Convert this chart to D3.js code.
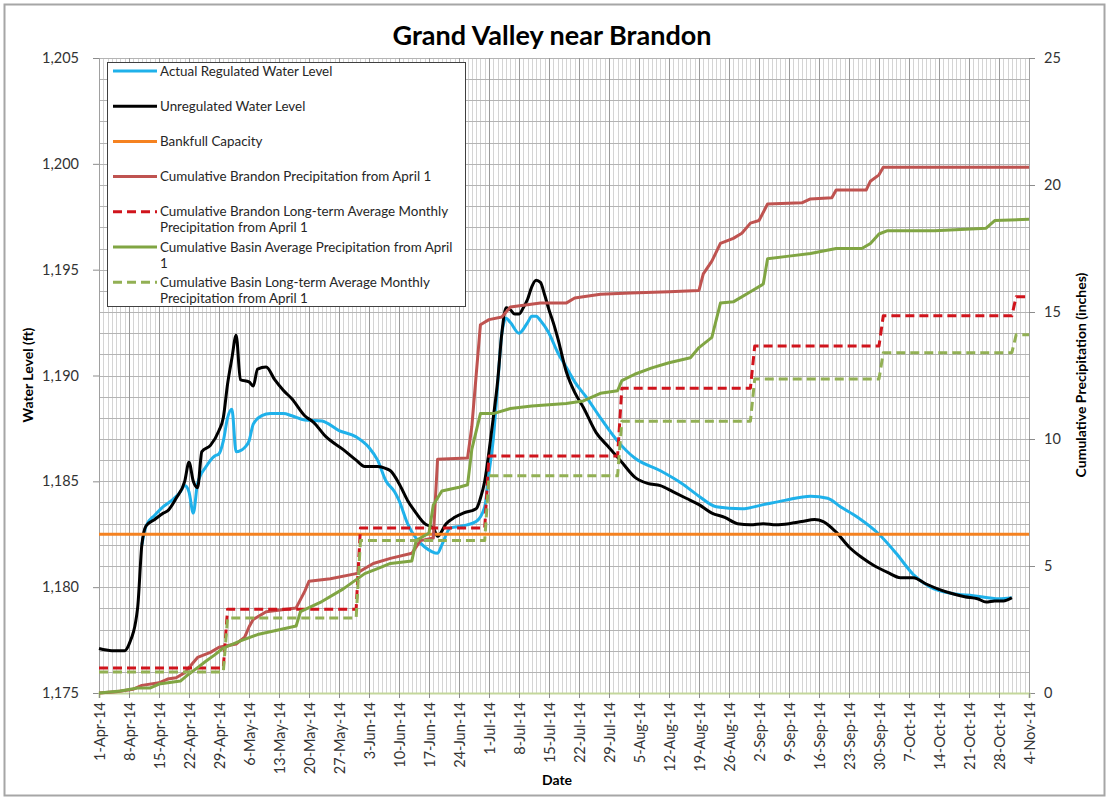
<!DOCTYPE html>
<html>
<head>
<meta charset="utf-8">
<script src="https://cdn.jsdelivr.net/npm/d3@7"></script>
<style>
  body { margin: 0; background: #fff; }
  text { font-family: Lato, "Open Sans", sans-serif; fill: #333; }
</style>
</head>
<body>
<div id="vis"></div>
<script>

// water levels (ft)
var regulatedLevel = [
  ["2014-04-11",1182.0],["2014-04-12",1182.9],["2014-04-14",1183.4],["2014-04-16",1183.8],
  ["2014-04-18",1184.1],["2014-04-20",1184.5],["2014-04-21",1184.8],["2014-04-22",1184.5],
  ["2014-04-23",1183.5],["2014-04-24",1184.9],["2014-04-26",1185.7],["2014-04-28",1186.2],
  ["2014-04-29",1186.3],["2014-04-30",1186.9],["2014-05-01",1188.0],["2014-05-02",1188.4],
  ["2014-05-03",1186.4],["2014-05-05",1186.6],["2014-05-06",1186.9],["2014-05-07",1187.7],
  ["2014-05-09",1188.1],["2014-05-11",1188.2],["2014-05-14",1188.2],["2014-05-16",1188.1],
  ["2014-05-19",1187.9],["2014-05-23",1187.85],["2014-05-27",1187.4],["2014-05-31",1187.1],
  ["2014-06-03",1186.6],["2014-06-05",1186.0],["2014-06-07",1185.0],["2014-06-09",1184.5],
  ["2014-06-10",1184.1],["2014-06-12",1183.0],["2014-06-14",1182.3],["2014-06-16",1181.9],
  ["2014-06-19",1181.6],["2014-06-20",1182.0],["2014-06-22",1182.8],["2014-06-25",1182.9],
  ["2014-06-28",1183.1],["2014-06-30",1183.8],["2014-07-01",1185.4],["2014-07-02",1187.0],
  ["2014-07-03",1189.5],["2014-07-04",1192.0],["2014-07-05",1192.7],["2014-07-06",1192.5],
  ["2014-07-08",1192.0],["2014-07-10",1192.5],["2014-07-11",1192.8],["2014-07-12",1192.8],
  ["2014-07-13",1192.6],["2014-07-15",1192.0],["2014-07-17",1191.1],["2014-07-19",1190.4],
  ["2014-07-21",1189.7],["2014-07-24",1188.9],["2014-07-27",1188.0],["2014-07-31",1186.9],
  ["2014-08-04",1186.1],["2014-08-10",1185.5],["2014-08-15",1184.9],["2014-08-19",1184.3],
  ["2014-08-23",1183.8],["2014-08-29",1183.7],["2014-09-03",1183.9],["2014-09-08",1184.1],
  ["2014-09-14",1184.3],["2014-09-18",1184.2],["2014-09-21",1183.8],["2014-09-25",1183.3],
  ["2014-09-30",1182.5],["2014-10-04",1181.6],["2014-10-08",1180.6],["2014-10-12",1180.0],
  ["2014-10-17",1179.7],["2014-10-22",1179.6],["2014-10-28",1179.45],["2014-10-31",1179.5]
];

var unregulatedLevel = [
  ["2014-04-01",1177.1],["2014-04-04",1177.0],["2014-04-07",1177.0],["2014-04-08",1177.3],
  ["2014-04-10",1179.0],["2014-04-11",1182.0],["2014-04-12",1182.9],["2014-04-14",1183.2],
  ["2014-04-16",1183.5],["2014-04-17",1183.6],["2014-04-19",1184.2],["2014-04-21",1185.0],
  ["2014-04-22",1185.9],["2014-04-23",1185.0],["2014-04-24",1184.7],["2014-04-25",1186.4],
  ["2014-04-27",1186.7],["2014-04-29",1187.4],["2014-04-30",1188.0],["2014-05-01",1189.6],
  ["2014-05-02",1190.8],["2014-05-03",1191.9],["2014-05-04",1189.8],["2014-05-06",1189.7],
  ["2014-05-07",1189.5],["2014-05-08",1190.3],["2014-05-10",1190.4],["2014-05-12",1189.8],
  ["2014-05-14",1189.3],["2014-05-16",1188.9],["2014-05-19",1188.1],["2014-05-21",1187.8],
  ["2014-05-24",1187.1],["2014-05-28",1186.5],["2014-05-31",1186.0],["2014-06-02",1185.7],
  ["2014-06-05",1185.7],["2014-06-07",1185.6],["2014-06-08",1185.5],["2014-06-10",1184.9],
  ["2014-06-12",1184.1],["2014-06-14",1183.5],["2014-06-16",1183.0],["2014-06-18",1182.8],
  ["2014-06-19",1182.4],["2014-06-21",1183.0],["2014-06-23",1183.3],["2014-06-25",1183.5],
  ["2014-06-28",1183.7],["2014-06-29",1184.2],["2014-06-30",1185.0],["2014-07-01",1186.4],
  ["2014-07-02",1188.0],["2014-07-03",1189.7],["2014-07-04",1192.0],["2014-07-05",1193.2],
  ["2014-07-06",1193.1],["2014-07-07",1192.9],["2014-07-08",1192.9],["2014-07-09",1193.2],
  ["2014-07-10",1193.6],["2014-07-11",1194.2],["2014-07-12",1194.5],["2014-07-13",1194.4],
  ["2014-07-14",1193.8],["2014-07-15",1193.1],["2014-07-16",1192.5],["2014-07-17",1191.8],
  ["2014-07-19",1190.2],["2014-07-21",1189.2],["2014-07-23",1188.5],["2014-07-26",1187.3],
  ["2014-07-29",1186.6],["2014-08-01",1185.9],["2014-08-04",1185.2],["2014-08-07",1184.9],
  ["2014-08-10",1184.8],["2014-08-13",1184.5],["2014-08-16",1184.2],["2014-08-19",1183.9],
  ["2014-08-22",1183.5],["2014-08-25",1183.3],["2014-08-28",1183.0],["2014-08-31",1182.95],
  ["2014-09-03",1183.0],["2014-09-06",1182.95],["2014-09-09",1183.0],["2014-09-12",1183.1],
  ["2014-09-15",1183.2],["2014-09-17",1183.1],["2014-09-20",1182.6],["2014-09-23",1181.9],
  ["2014-09-26",1181.4],["2014-09-29",1181.0],["2014-10-02",1180.7],["2014-10-05",1180.45],
  ["2014-10-08",1180.45],["2014-10-11",1180.15],["2014-10-14",1179.9],["2014-10-17",1179.7],
  ["2014-10-20",1179.55],["2014-10-23",1179.45],["2014-10-25",1179.3],["2014-10-27",1179.35],
  ["2014-10-29",1179.35],["2014-10-31",1179.5]
];

var bankfullLevel = [["2014-04-01",1182.5],["2014-11-04",1182.5]];

// cumulative precipitation (inches)
var brandonPrecip = [
  ["2014-04-01",0],["2014-04-05",0.05],["2014-04-09",0.15],["2014-04-11",0.3],["2014-04-15",0.4],
  ["2014-04-17",0.55],["2014-04-19",0.6],["2014-04-21",0.8],["2014-04-23",1.2],["2014-04-24",1.4],
  ["2014-04-27",1.6],["2014-04-29",1.8],["2014-05-03",1.93],["2014-05-05",2.2],["2014-05-06",2.6],
  ["2014-05-07",2.9],["2014-05-10",3.2],["2014-05-17",3.35],["2014-05-19",4.0],["2014-05-20",4.4],
  ["2014-05-25",4.5],["2014-05-31",4.7],["2014-06-02",4.9],["2014-06-04",5.1],["2014-06-08",5.3],
  ["2014-06-13",5.5],["2014-06-15",6.0],["2014-06-18",6.1],["2014-06-19",9.2],["2014-06-26",9.25],
  ["2014-06-27",10.5],["2014-06-28",12.5],["2014-06-29",14.5],["2014-07-01",14.7],["2014-07-04",14.8],
  ["2014-07-06",15.2],["2014-07-13",15.35],["2014-07-19",15.35],["2014-07-21",15.55],["2014-07-27",15.7],
  ["2014-08-03",15.75],["2014-08-12",15.8],["2014-08-19",15.85],["2014-08-20",16.5],["2014-08-22",17.0],
  ["2014-08-24",17.7],["2014-08-27",17.9],["2014-08-29",18.1],["2014-08-31",18.5],["2014-09-02",18.6],
  ["2014-09-04",19.25],["2014-09-12",19.3],["2014-09-14",19.45],["2014-09-19",19.5],["2014-09-20",19.8],
  ["2014-09-27",19.8],["2014-09-28",20.15],["2014-09-30",20.4],["2014-10-01",20.7],["2014-11-04",20.7]
];

var brandonNormal = [
  ["2014-04-01",0.98],["2014-04-30",0.98],["2014-05-01",3.3],["2014-05-31",3.3],
  ["2014-06-01",6.5],["2014-06-30",6.5],["2014-07-01",9.33],["2014-07-31",9.33],
  ["2014-08-01",12.0],["2014-08-31",12.0],["2014-09-01",13.66],["2014-09-30",13.66],
  ["2014-10-01",14.85],["2014-10-31",14.85],["2014-11-01",15.6],["2014-11-04",15.6]
];

var basinPrecip = [
  ["2014-04-01",0],["2014-04-06",0.08],["2014-04-10",0.2],["2014-04-13",0.2],["2014-04-15",0.35],
  ["2014-04-20",0.47],["2014-04-22",0.75],["2014-04-24",1.0],["2014-04-26",1.26],["2014-04-28",1.5],
  ["2014-04-30",1.77],["2014-05-04",2.05],["2014-05-08",2.3],["2014-05-12",2.45],["2014-05-17",2.64],
  ["2014-05-18",3.2],["2014-05-23",3.6],["2014-05-28",4.1],["2014-06-02",4.7],["2014-06-05",4.9],
  ["2014-06-08",5.1],["2014-06-13",5.2],["2014-06-14",6.0],["2014-06-17",6.3],["2014-06-18",7.4],
  ["2014-06-20",7.95],["2014-06-24",8.1],["2014-06-26",8.2],["2014-06-27",9.6],["2014-06-29",11.0],
  ["2014-07-02",11.0],["2014-07-06",11.2],["2014-07-11",11.3],["2014-07-19",11.4],["2014-07-23",11.5],
  ["2014-07-27",11.8],["2014-07-31",11.9],["2014-08-01",12.3],["2014-08-04",12.55],["2014-08-08",12.8],
  ["2014-08-12",13.0],["2014-08-17",13.2],["2014-08-19",13.6],["2014-08-22",14.0],["2014-08-24",15.35],
  ["2014-08-27",15.4],["2014-08-31",15.8],["2014-09-03",16.1],["2014-09-04",17.1],["2014-09-09",17.2],
  ["2014-09-14",17.3],["2014-09-20",17.5],["2014-09-26",17.5],["2014-09-28",17.7],["2014-09-30",18.07],
  ["2014-10-02",18.2],["2014-10-13",18.2],["2014-10-25",18.3],["2014-10-27",18.6],["2014-11-04",18.65]
];

var basinNormal = [
  ["2014-04-01",0.83],["2014-04-30",0.83],["2014-05-01",2.95],["2014-05-31",2.95],
  ["2014-06-01",6.0],["2014-06-30",6.0],["2014-07-01",8.55],["2014-07-31",8.55],
  ["2014-08-01",10.7],["2014-08-31",10.7],["2014-09-01",12.36],["2014-09-30",12.36],
  ["2014-10-01",13.4],["2014-10-31",13.4],["2014-11-01",14.1],["2014-11-04",14.1]
];

var levelTicks = [1175, 1180, 1185, 1190, 1195, 1200, 1205];
var precipTicks = [0, 5, 10, 15, 20, 25];
var dateRange = ["2014-04-01", "2014-11-04"];

var legendLabels = [
  ["Actual Regulated Water Level"],
  ["Unregulated Water Level"],
  ["Bankfull Capacity"],
  ["Cumulative Brandon Precipitation from April 1"],
  ["Cumulative Brandon Long-term Average Monthly", "Precipitation from April 1"],
  ["Cumulative Basin Average Precipitation from April", "1"],
  ["Cumulative Basin Long-term Average Monthly", "Precipitation from April 1"]
];


var width = 1116;
var height = 800;
var plot = { left: 99, right: 1029, top: 58, bottom: 693 };

var parseDate = d3.utcParse('%Y-%m-%d');
var start = parseDate(dateRange[0]);
var end = parseDate(dateRange[1]);

var x = d3.scaleUtc().domain([start, end]).range([plot.left, plot.right]);
var yLevel = d3.scaleLinear().domain([1175, 1205]).range([plot.bottom, plot.top]);
var yPrecip = d3.scaleLinear().domain([0, 25]).range([plot.bottom, plot.top]);

function rows(list) {
  return list.map(function(d) { return { date: parseDate(d[0]), value: d[1] }; });
}

// series in drawing order, styles kept here rather than in the data
var series = [
  { data: regulatedLevel, axis: 'level', color: '#1fb1ea', dash: null, smooth: true },
  { data: unregulatedLevel, axis: 'level', color: '#000000', dash: null, smooth: true },
  { data: bankfullLevel, axis: 'level', color: '#f58220', dash: null },
  { data: brandonPrecip, axis: 'precip', color: '#bf5350', dash: null },
  { data: brandonNormal, axis: 'precip', color: '#d0141c', dash: '9,5' },
  { data: basinPrecip, axis: 'precip', color: '#80a543', dash: null },
  { data: basinNormal, axis: 'precip', color: '#92b054', dash: '9,5' }
];

var svg = d3.select('#vis').append('svg')
  .attr('width', width)
  .attr('height', height);

svg.append('rect')
  .attr('x', 4.5).attr('y', 4.5)
  .attr('width', 1100).attr('height', 791)
  .attr('fill', '#fff')
  .attr('stroke', '#a6a6a6')
  .attr('stroke-width', 2);

svg.append('text')
  .attr('x', 552).attr('y', 45)
  .attr('text-anchor', 'middle')
  .style('font-size', '27px')
  .style('font-weight', 'bold')
  .style('fill', '#000')
  .text('Grand Valley near Brandon');

// grid
var grid = svg.append('g');
var days = d3.utcDay.range(start, d3.utcDay.offset(end, 1));
var weeks = d3.utcDay.range(start, d3.utcDay.offset(end, 1), 7);

grid.selectAll('.minor').data(days).enter().append('line')
  .attr('x1', function(d) { return Math.round(x(d)) + 0.5; })
  .attr('x2', function(d) { return Math.round(x(d)) + 0.5; })
  .attr('y1', plot.top).attr('y2', plot.bottom)
  .attr('stroke', '#d4d4d4').attr('stroke-width', 1);

grid.selectAll('.hline').data(d3.range(1175, 1206)).enter().append('line')
  .attr('x1', plot.left).attr('x2', plot.right)
  .attr('y1', function(d) { return Math.round(yLevel(d)) + 0.5; })
  .attr('y2', function(d) { return Math.round(yLevel(d)) + 0.5; })
  .attr('stroke', '#b4b4b4').attr('stroke-width', 1);

grid.selectAll('.major').data(weeks).enter().append('line')
  .attr('x1', function(d) { return Math.round(x(d)) + 0.5; })
  .attr('x2', function(d) { return Math.round(x(d)) + 0.5; })
  .attr('y1', plot.top).attr('y2', plot.bottom)
  .attr('stroke', '#9a9a9a').attr('stroke-width', 1);

// axes
var leftAxis = svg.append('g')
  .attr('transform', 'translate(' + plot.left + ',0)')
  .call(d3.axisLeft(yLevel).tickValues(levelTicks).tickSize(6).tickPadding(14).tickFormat(d3.format(',')));

var rightAxis = svg.append('g')
  .attr('transform', 'translate(' + plot.right + ',0)')
  .call(d3.axisRight(yPrecip).tickValues(precipTicks).tickSize(6).tickPadding(9));

var bottomAxis = svg.append('g')
  .attr('transform', 'translate(0,' + plot.bottom + ')')
  .call(d3.axisBottom(x).tickValues(weeks).tickSize(5).tickFormat(d3.utcFormat('%-d-%b-%y')));

bottomAxis.selectAll('text')
  .attr('transform', 'rotate(-90)')
  .attr('text-anchor', 'end')
  .attr('x', -9).attr('y', 0)
  .attr('dy', '0.35em');

[leftAxis, rightAxis, bottomAxis].forEach(function(a) {
  a.selectAll('.domain').attr('stroke', '#a0a0a0');
  a.selectAll('.tick line').attr('stroke', '#8c8c8c');
  a.selectAll('text').style('font-size', '14.5px').style('font-family', 'Lato, sans-serif').attr('fill', '#404040');
});
bottomAxis.select('.domain').attr('stroke', '#c4d79b').attr('stroke-width', 2);

svg.append('text')
  .attr('transform', 'translate(33,375) rotate(-90)')
  .attr('text-anchor', 'middle')
  .style('font-size', '14px').style('font-weight', 'bold').style('fill', '#000')
  .text('Water Level (ft)');

svg.append('text')
  .attr('transform', 'translate(1086,375) rotate(-90)')
  .attr('text-anchor', 'middle')
  .style('font-size', '14px').style('font-weight', 'bold').style('fill', '#000')
  .text('Cumulative Precipitation (inches)');

svg.append('text')
  .attr('x', 557).attr('y', 785)
  .attr('text-anchor', 'middle')
  .style('font-size', '14px').style('font-weight', 'bold').style('fill', '#000')
  .text('Date');

// lines
var lines = svg.append('g');
series.forEach(function(s) {
  var yScale = s.axis === 'level' ? yLevel : yPrecip;
  var line = d3.line()
    .x(function(d) { return x(d.date); })
    .y(function(d) { return yScale(d.value); })
    .curve(s.smooth ? d3.curveMonotoneX : d3.curveLinear);

  lines.append('path')
    .datum(rows(s.data))
    .attr('d', line)
    .attr('fill', 'none')
    .attr('stroke', s.color)
    .attr('stroke-width', 3)
    .attr('stroke-dasharray', s.dash)
    .attr('stroke-linejoin', 'round');
});

// legend
var legend = svg.append('g');
legend.append('rect')
  .attr('x', 107.5).attr('y', 62.5)
  .attr('width', 358).attr('height', 244)
  .attr('fill', '#fff')
  .attr('stroke', '#404040')
  .attr('stroke-width', 1);

legendLabels.forEach(function(lbl, i) {
  var cy = 71 + i * 35.2;
  var s = series[i];
  legend.append('line')
    .attr('x1', 113).attr('x2', 157)
    .attr('y1', cy).attr('y2', cy)
    .attr('stroke', s.color)
    .attr('stroke-width', 3)
    .attr('stroke-dasharray', s.dash);
  lbl.forEach(function(t, j) {
    legend.append('text')
      .attr('x', 160).attr('y', cy + j * 16)
      .attr('dy', '0.35em')
      .style('font-size', '13.4px')
      .style('fill', '#262626')
      .text(t);
  });
});

</script>
</body>
</html>
